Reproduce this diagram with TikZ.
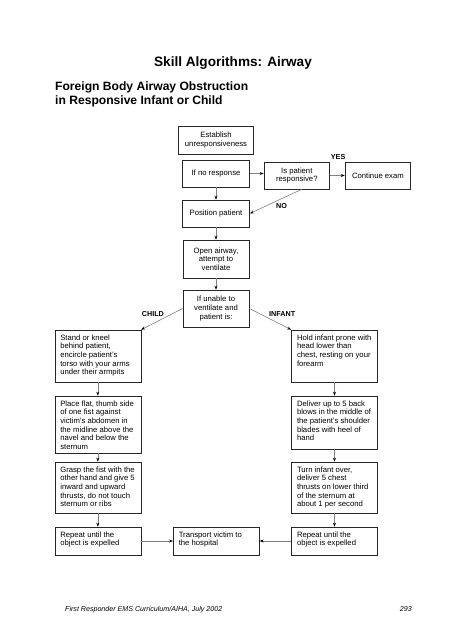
\documentclass[tikz,border=0pt]{standalone}
\usepackage{fontspec}
\setmainfont{Liberation Sans}
\usetikzlibrary{arrows.meta, positioning}
\newcommand{\tb}[2]{\parbox[c][#1][t]{75pt}{\raggedright\vspace*{1.5pt}#2}}

\begin{document}
\begin{tikzpicture}[x=1pt, y=-1pt,
  box/.style={draw=black!85, line width=0.6pt, fill=white, inner sep=0pt, font=\fontsize{7.7}{8.7}\selectfont},
  cbox/.style={box, align=center, minimum width=#1, minimum height=27pt},
  lbox/.style={box, inner xsep=5.5pt, inner ysep=3pt},
  lbl/.style={font=\fontsize{7.2}{8}\selectfont\bfseries, inner sep=0pt},
  arr/.style={draw=black!50, line width=0.6pt, -{Stealth[length=4pt, width=3pt, color=black]}},
]
  \useasboundingbox (0,0) rectangle (452,640);

  \node[anchor=base, font=\fontsize{13.6}{16}\selectfont\bfseries] (title) at (233, 66.7) {Skill Algorithms: Airway};
  \node[anchor=north west, align=left, inner sep=0pt, font=\fontsize{12.1}{14.3}\selectfont\bfseries] (sub) at (55, 81.2) {Foreign Body Airway Obstruction\\in Responsive Infant or Child};

  \node[cbox=75pt, minimum height=28pt] (est) at (216, 140) {Establish\\unresponsiveness};
  \node[cbox=67pt] (noresp) at (216, 173.5) {If no response};
  \node[cbox=65.7pt] (resp) at (296.8, 175.5) {Is patient\\responsive?};
  \node[cbox=65.7pt] (cont) at (377.9, 175.5) {Continue exam};
  \node[cbox=67pt] (pos) at (216, 213.5) {Position patient};
  \node[cbox=66.3pt, minimum height=38pt] (open) at (216, 259) {Open airway,\\attempt to\\ventilate};
  \node[cbox=66.3pt, minimum height=37pt] (unable) at (216, 308.5) {If unable to\\ventilate and\\patient is:};

  \node[lbl, anchor=base west] (yes) at (330.7, 159.5) {YES};
  \node[lbl, anchor=base west] (no) at (276, 208.3) {NO};
  \node[lbl, anchor=base west] (child) at (141.7, 316.7) {CHILD};
  \node[lbl, anchor=base west] (infant) at (269, 316.7) {INFANT};

  \node[lbox] (stand) at (97.8, 356) {\tb{46pt}{Stand or kneel\\behind patient,\\encircle patient's\\torso with your arms\\under their armpits}};
  \node[lbox] (place) at (97.8, 424.5) {\tb{51pt}{Place flat, thumb side\\of one fist against\\victim's abdomen in\\the midline above the\\navel and below the\\sternum}};
  \node[lbox] (grasp) at (97.8, 487.5) {\tb{45pt}{Grasp the fist with the\\other hand and give 5\\inward and upward\\thrusts, do not touch\\sternum or ribs}};
  \node[lbox] (rep1) at (97.8, 541) {\tb{22pt}{Repeat until the\\object is expelled}};

  \node[lbox] (hold) at (334.5, 356) {\tb{46pt}{Hold infant prone with\\head lower than\\chest, resting on your\\forearm}};
  \node[lbox] (deliver) at (334.5, 422.5) {\tb{47pt}{Deliver up to 5 back\\blows in the middle of\\the patient's shoulder\\blades with heel of\\hand}};
  \node[lbox] (turn) at (334.5, 487.5) {\tb{45pt}{Turn infant over,\\deliver 5 chest\\thrusts on lower third\\of the sternum at\\about 1 per second}};
  \node[lbox] (rep2) at (334.5, 541) {\tb{22pt}{Repeat until the\\object is expelled}};

  \node[lbox] (trans) at (216.3, 541) {\tb{22pt}{Transport victim to\\the hospital}};

  \draw[arr] (noresp.east) -- (noresp.east -| resp.west);
  \draw[arr] (resp) -- (cont);
  \draw[arr] ([xshift=5pt]resp.south) -- (pos.east);
  \draw[arr] (noresp) -- (pos);
  \draw[arr] (pos) -- (open);
  \draw[arr] (open) -- (unable);
  \draw[arr] (unable.west) -- (stand.north east);
  \draw[arr] (unable.east) -- (hold.north west);
  \draw[arr] (stand) -- (place);
  \draw[arr] (place) -- (grasp);
  \draw[arr] (grasp) -- (rep1);
  \draw[arr] (hold) -- (deliver);
  \draw[arr] (deliver) -- (turn);
  \draw[arr] (turn) -- (rep2);
  \draw[arr] (rep1) -- (trans);
  \draw[arr] (rep2) -- (trans);

  \node[anchor=base west, inner sep=0pt, font=\fontsize{7.1}{8}\selectfont\itshape] (foot) at (65, 611.5) {First Responder EMS Curriculum/AIHA, July 2002};
  \node[anchor=base east, inner sep=0pt, font=\fontsize{7.1}{8}\selectfont\itshape] (page) at (412, 611.5) {293};
\end{tikzpicture}
\end{document}
